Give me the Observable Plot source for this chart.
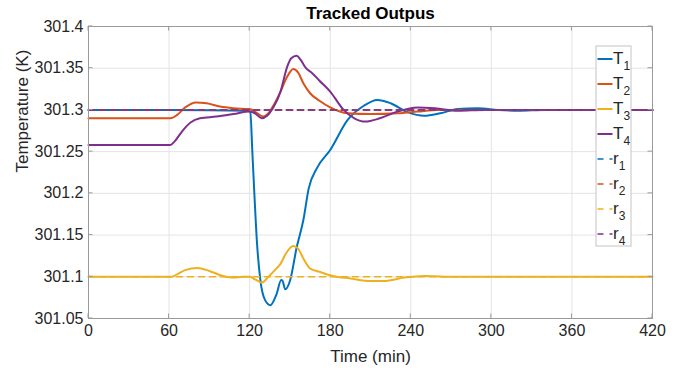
<!DOCTYPE html>
<html>
<head>
<meta charset="utf-8">
<script src="https://cdn.jsdelivr.net/npm/d3@7"></script>
<script src="https://cdn.jsdelivr.net/npm/@observablehq/plot@0.6"></script>
<style>
  html, body { margin: 0; padding: 0; background: #fff; }
  svg { font-family: "Liberation Sans", Arial, sans-serif; }
</style>
</head>
<body>
<div id="chart"></div>
<script>
// ---- data ----
const title = "Tracked Outpus";
const xLabel = "Time (min)";
const yLabel = "Temperature (K)";
const xTicks = [0, 60, 120, 180, 240, 300, 360, 420];
const yTicks = [301.05, 301.1, 301.15, 301.2, 301.25, 301.3, 301.35, 301.4];
const yTickLabels = ["301.05", "301.1", "301.15", "301.2", "301.25", "301.3", "301.35", "301.4"];

const seriesNames = ["T1", "T2", "T3", "T4", "r1", "r2", "r3", "r4"];
const seriesColors = ["#0072BD", "#D95319", "#EDB120", "#7E2F8E", "#0072BD", "#D95319", "#EDB120", "#7E2F8E"];

const T1_t = [0, 60, 118, 120.5, 122, 123.5, 125.5, 128, 131.5, 135.5, 140, 143.5, 144.5, 146.5, 150, 155, 160, 164, 170, 180, 193, 205, 215, 225, 238, 250, 262, 275, 290, 305, 320, 340, 420];
const T1_v = [301.3, 301.3, 301.299, 301.298, 301.25, 301.2, 301.14, 301.096, 301.072, 301.066, 301.079, 301.096, 301.095, 301.085, 301.095, 301.135, 301.168, 301.206, 301.23, 301.252, 301.288, 301.305, 301.312, 301.308, 301.297, 301.293, 301.296, 301.301, 301.302, 301.3, 301.299, 301.3, 301.3];

const T2_t = [0, 61, 66, 72, 80, 88, 98, 108, 120, 124, 130, 134, 138, 143, 148, 152.5, 156, 160, 165, 172, 180, 193, 210, 230, 245, 260, 420];
const T2_v = [301.29, 301.29, 301.294, 301.303, 301.309, 301.308, 301.304, 301.302, 301.301, 301.298, 301.292, 301.296, 301.306, 301.322, 301.340, 301.349, 301.345, 301.332, 301.320, 301.311, 301.303, 301.296, 301.295, 301.296, 301.298, 301.3, 301.3];

const T3_t = [0, 62, 66, 72, 81, 90, 100, 108, 115, 120, 124, 129, 134, 140, 143, 147, 152.4, 156, 160, 165, 172, 182, 195, 210, 220, 235, 250, 265, 420];
const T3_v = [301.1, 301.1, 301.103, 301.108, 301.1104, 301.107, 301.101, 301.099, 301.1, 301.1, 301.097, 301.093, 301.1, 301.11, 301.1155, 301.128, 301.137, 301.134, 301.122, 301.110, 301.106, 301.101, 301.098, 301.095, 301.095, 301.099, 301.101, 301.1, 301.1];

const T4_t = [0, 61, 64, 70, 76, 83, 95, 108, 120, 124, 129, 133, 138, 143, 148, 151, 155, 158, 162, 166, 172, 180, 190, 198, 206, 217, 230, 245, 258, 275, 295, 420];
const T4_v = [301.258, 301.258, 301.262, 301.275, 301.285, 301.290, 301.292, 301.295, 301.298, 301.296, 301.290, 301.293, 301.304, 301.322, 301.352, 301.362, 301.365, 301.360, 301.350, 301.345, 301.335, 301.322, 301.300, 301.290, 301.286, 301.290, 301.298, 301.303, 301.302, 301.299, 301.3, 301.3];

const r_t = [0, 420];
const r1_v = [301.3, 301.3];
const r2_v = [301.3, 301.3];
const r3_v = [301.1, 301.1];
const r4_v = [301.3, 301.3];

// ---- build table ----
const pairs = [[T1_t, T1_v], [T2_t, T2_v], [T3_t, T3_v], [T4_t, T4_v], [r_t, r1_v], [r_t, r2_v], [r_t, r3_v], [r_t, r4_v]];
const solid = [], dashed = [];
pairs.forEach(([ts, vs], i) => {
  const s = seriesNames[i];
  ts.forEach((t, j) => (i < 4 ? solid : dashed).push({s, t, v: vs[j]}));
});

const axisColor = "#9a9a9a";
const textColor = "#262626";

const chart = Plot.plot({
  width: 683,
  height: 370,
  marginLeft: 88,
  marginRight: 31,
  marginTop: 26,
  marginBottom: 52,
  style: {fontFamily: '"Liberation Sans", Arial, sans-serif', background: "#fff"},
  x: {domain: [0, 420]},
  y: {domain: [301.05, 301.4]},
  color: {domain: seriesNames, range: seriesColors},
  marks: [
    Plot.gridX(xTicks, {stroke: "#e4e4e4", strokeOpacity: 1}),
    Plot.gridY(yTicks, {stroke: "#e4e4e4", strokeOpacity: 1}),
    Plot.line(solid, {x: "t", y: "v", z: "s", stroke: "s", strokeWidth: 2, curve: "monotone-x"}),
    Plot.line(dashed, {x: "t", y: "v", z: "s", stroke: "s", strokeWidth: 1.6, strokeDasharray: "6,5"}),
    Plot.frame({stroke: axisColor}),
    Plot.axisX(xTicks, {tickSize: 0, tickPadding: 6, fontSize: 16, fill: textColor, label: null}),
    Plot.axisY(yTicks, {tickSize: 0, tickPadding: 5, fontSize: 16, fill: textColor, label: null,
      tickFormat: (d) => yTickLabels[yTicks.indexOf(d)]}),
    Plot.text([title], {frameAnchor: "top", lineAnchor: "middle", dy: -13, fontSize: 17, fontWeight: "bold", fill: "#000"}),
    Plot.text([xLabel], {frameAnchor: "bottom", lineAnchor: "middle", dy: 38, fontSize: 17, fill: textColor}),
    Plot.text([yLabel], {frameAnchor: "left", lineAnchor: "middle", dx: -66, rotate: -90, fontSize: 17, fill: textColor})
  ]
});

document.getElementById("chart").appendChild(chart);

// ---- inner ticks on all four sides (MATLAB box style) ----
const svg = d3.select(chart);
const sx = chart.scale("x"), sy = chart.scale("y");
const x0 = sx.apply(0), x1 = sx.apply(420), y0 = sy.apply(301.05), y1 = sy.apply(301.4);
const tg = svg.append("g").attr("stroke", axisColor).attr("stroke-width", 1);
const tl = 4.5;
xTicks.forEach(v => {
  const x = sx.apply(v);
  tg.append("line").attr("x1", x).attr("x2", x).attr("y1", y0).attr("y2", y0 - tl);
  tg.append("line").attr("x1", x).attr("x2", x).attr("y1", y1).attr("y2", y1 + tl);
});
yTicks.forEach(v => {
  const y = sy.apply(v);
  tg.append("line").attr("x1", x0).attr("x2", x0 + tl).attr("y1", y).attr("y2", y);
  tg.append("line").attr("x1", x1).attr("x2", x1 - tl).attr("y1", y).attr("y2", y);
});

// ---- legend ----
const lg = svg.append("g").attr("text-anchor", "start");
const lx = 596, ly = 46, lw = 35, lh = 200;
lg.append("rect").attr("x", lx).attr("y", ly).attr("width", lw).attr("height", lh)
  .attr("fill", "#fff").attr("stroke", "#c4c4c4").attr("stroke-width", 1);
seriesNames.forEach((name, i) => {
  const y = 59 + 25 * i;
  lg.append("line").attr("x1", 597.5).attr("x2", 612.5).attr("y1", y).attr("y2", y)
    .attr("stroke", seriesColors[i]).attr("stroke-width", i < 4 ? 2 : 1.6)
    .attr("stroke-dasharray", i < 4 ? null : "6,6");
  const t = lg.append("text").attr("x", 613).attr("y", y + 4.5).attr("font-size", 17)
    .attr("fill", textColor).attr("text-anchor", "start");
  t.append("tspan").text(name[0]);
  t.append("tspan").attr("font-size", 12).attr("dy", 6).text(name.slice(1));
});
</script>
</body>
</html>
